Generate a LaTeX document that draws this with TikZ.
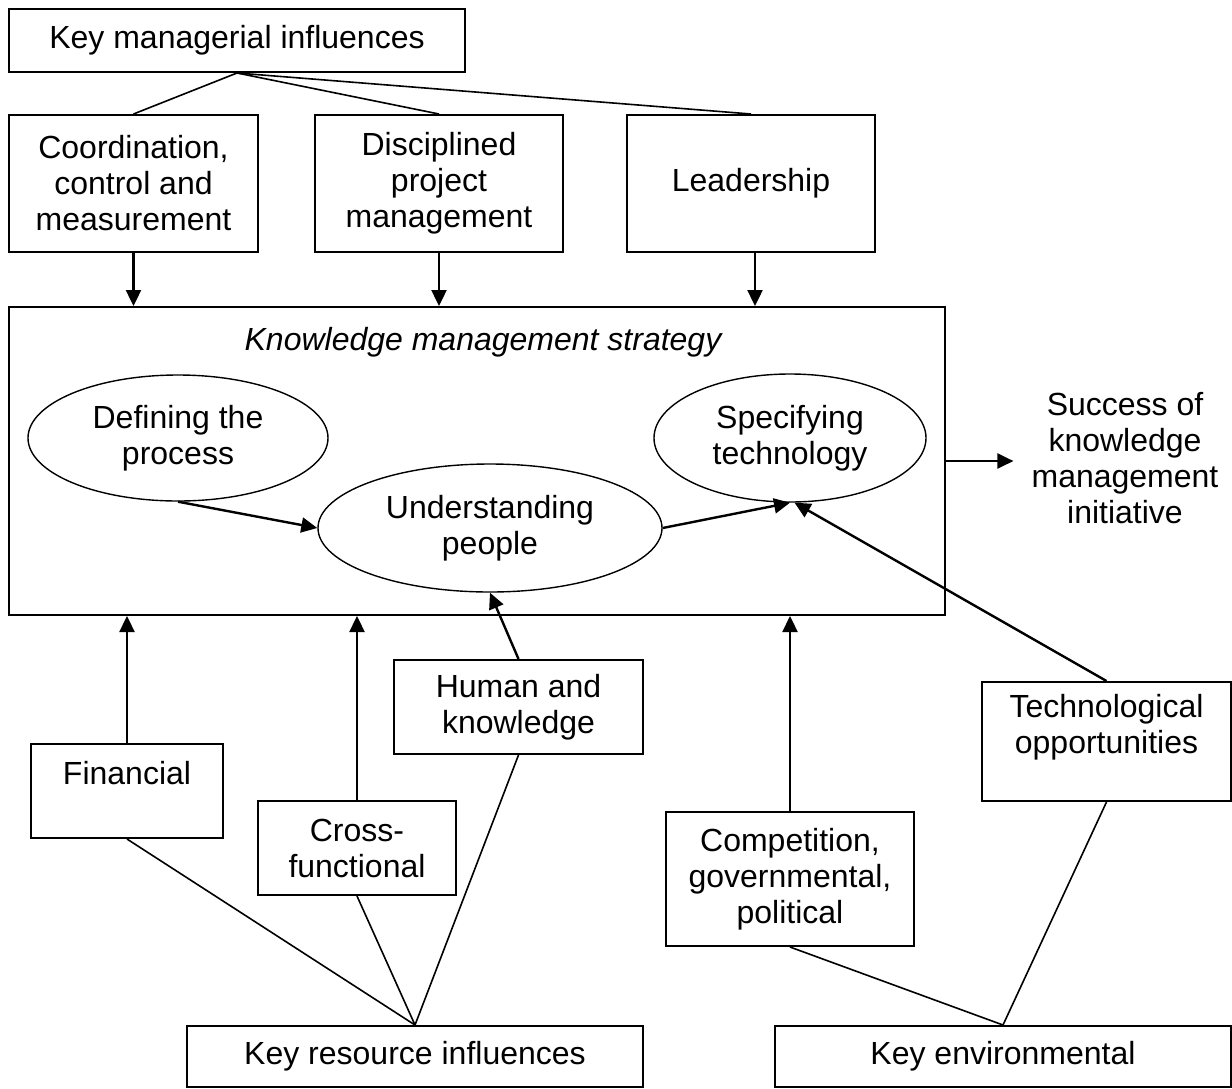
\documentclass[tikz,border=0pt]{standalone}
\usepackage{fontspec}
\setmainfont{Liberation Sans}
\usetikzlibrary{arrows.meta,shapes.geometric}

\begin{document}
\begin{tikzpicture}[x=1pt,y=-1pt,
  every node/.style={font=\fontsize{32}{36}\selectfont, align=center},
  box/.style={draw, line width=2pt, rectangle, inner sep=0pt},
  oval/.style={draw, line width=1.4pt, ellipse, inner sep=0pt},
  link/.style={line width=1.6pt},
  flow/.style={line width=2.4pt, -{Triangle[length=16pt,width=15pt]}}
]
\useasboundingbox (0,0) rectangle (1232,1088);

% managerial influences
\node[box, minimum width=456pt, minimum height=63pt] (kmi) at (237,40.5) {Key managerial influences};
\node[box, minimum width=249pt, minimum height=137pt] (coord) at (133.5,183.5) {Coordination,\\control and\\measurement};
\node[box, minimum width=248pt, minimum height=137pt] (disc) at (439,183.5) {Disciplined\\project\\management};
\node[box, minimum width=248pt, minimum height=137pt] (lead) at (751,183.5) {Leadership};

% strategy frame
\node[box, minimum width=936pt, minimum height=308pt] (kms) at (477,461) {};
\node (title) at (483,342) {\itshape Knowledge management strategy};
\node[oval, minimum width=300pt, minimum height=126pt] (def) at (178,438) {Defining the\\process};
\node[oval, minimum width=344pt, minimum height=128pt] (und) at (490,528) {Understanding\\people};
\node[oval, minimum width=272pt, minimum height=128pt] (spec) at (790,438) {Specifying\\technology};

% outcome
\node[inner xsep=18pt, inner ysep=0pt] (succ) at (1125,458) {Success of\\knowledge\\management\\initiative};

% resource influences
\node[box, minimum width=192pt, minimum height=94pt] (fin) at (127,791) {Financial\\~};
\node[box, minimum width=198pt, minimum height=94pt] (cross) at (357,848) {Cross-\\functional};
\node[box, minimum width=249pt, minimum height=94pt] (hum) at (518.5,707) {Human and\\knowledge};
\node[box, minimum width=456pt, minimum height=61pt] (kri) at (415,1056.5) {Key resource influences};

% environmental influences
\node[box, minimum width=248pt, minimum height=134pt] (comp) at (790,879) {Competition,\\governmental,\\political};
\node[box, minimum width=249pt, minimum height=119pt] (tech) at (1106.5,741.5) {Technological\\opportunities\\~};
\node[box, minimum width=456pt, minimum height=61pt] (kenv) at (1003,1056.5) {Key environmental};

% fan-out lines
\draw[link] (kmi.south) -- (coord.north);
\draw[link] (kmi.south) -- (disc.north);
\draw[link] (kmi.south) -- (lead.north);
\draw[link] (kri.north) -- (fin.south);
\draw[link] (kri.north) -- (cross.south);
\draw[link] (kri.north) -- (hum.south);
\draw[link] (kenv.north) -- (comp.south);
\draw[link] (kenv.north) -- (tech.south);

% arrows into the strategy
\draw[flow] (coord.south) -- (coord.south |- kms.north);
\draw[flow] (disc.south) -- (disc.south |- kms.north);
\draw[flow] ([xshift=4pt]lead.south) -- ([xshift=4pt]lead.south |- kms.north);
\draw[flow] (fin.north) -- (fin.north |- kms.south);
\draw[flow] (cross.north) -- (cross.north |- kms.south);
\draw[flow] (comp.north) -- (comp.north |- kms.south);
\draw[flow] (hum.north) -- (und.south);
\draw[flow] (tech.north) -- (spec.-86);

% inner flow
\draw[flow] (def.south) -- (und.west);
\draw[flow] (und.east) -- (spec.south);

% outcome arrow
\draw[flow] (kms.east) -- (kms.east -| succ.west);
\end{tikzpicture}
\end{document}
